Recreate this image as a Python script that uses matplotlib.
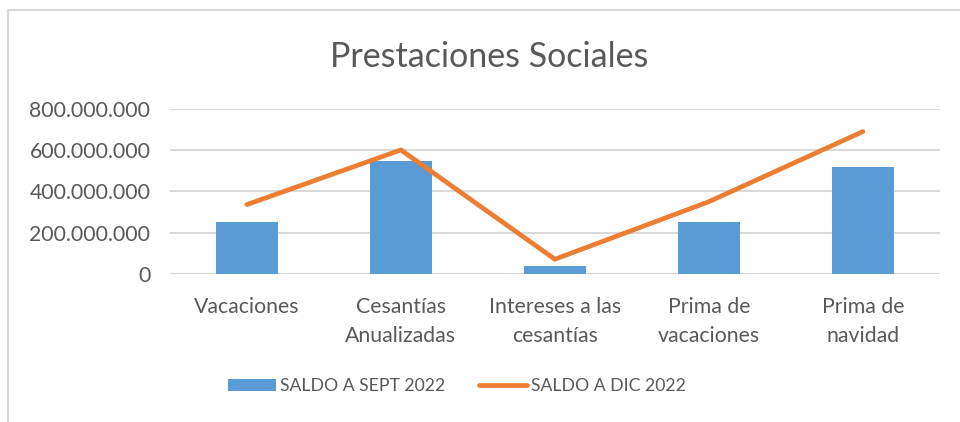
import matplotlib
matplotlib.use("Agg")
import matplotlib.pyplot as plt
from matplotlib.patches import Rectangle
from matplotlib.ticker import FuncFormatter

categories = ["Vacaciones", "Cesantías\nAnualizadas", "Intereses a las\ncesantías",
              "Prima de\nvacaciones", "Prima de\nnavidad"]
saldo_sept = [250_000_000, 549_000_000, 40_000_000, 250_000_000, 519_000_000]
saldo_dic = [336_000_000, 601_000_000, 71_000_000, 350_000_000, 690_000_000]
yticks = [0, 200_000_000, 400_000_000, 600_000_000, 800_000_000]

plt.rcParams['font.family'] = ['Lato', 'DejaVu Sans']
TXT = '#595959'

fig = plt.figure(figsize=(9.6, 4.22), dpi=100)
ax = fig.add_axes([0.177, 0.351, 0.802, 0.391])

x = list(range(len(categories)))
bars = ax.bar(x, saldo_sept, width=0.4, color='#5B9BD5', label='SALDO A SEPT 2022', zorder=2)
line, = ax.plot(x, saldo_dic, color='#ED7D31', lw=3.4, solid_capstyle='round',
                solid_joinstyle='round', label='SALDO A DIC 2022', zorder=3)

ax.set_xlim(-0.5, len(categories) - 0.5)
ax.set_ylim(0, 800_000_000)
ax.set_yticks(yticks)
ax.yaxis.set_major_formatter(FuncFormatter(lambda v, p: '0' if v == 0 else f"{int(v):,}".replace(',', '.')))
ax.set_xticks(x)
ax.set_xticklabels(categories, linespacing=1.55)
ax.tick_params(axis='both', length=0, colors=TXT, labelsize=15.3)
ax.tick_params(axis='y', pad=14)
ax.tick_params(axis='x', pad=17)
for s in ax.spines.values():
    s.set_visible(False)
ax.grid(axis='y', color='#D9D9D9', lw=1.5, zorder=0)
ax.set_axisbelow(True)

fig.text(0.51, 0.865, 'Prestaciones Sociales', ha='center', va='center', fontsize=24.5, color=TXT)

leg = fig.legend([bars, line], ['SALDO A SEPT 2022', 'SALDO A DIC 2022'],
                 loc='center', bbox_to_anchor=(0.476, 0.085), ncol=2, frameon=False,
                 fontsize=12.7, handlelength=2.7, handletextpad=0.25, columnspacing=1.9)
for t in leg.get_texts():
    t.set_color(TXT)

fig.patches.append(Rectangle((8/960, -0.1), 1.2, 1 - 10/422 + 0.1, transform=fig.transFigure,
                             fill=False, edgecolor='#D9D9D9', lw=1.5))

fig.savefig('out.png', dpi=100)
